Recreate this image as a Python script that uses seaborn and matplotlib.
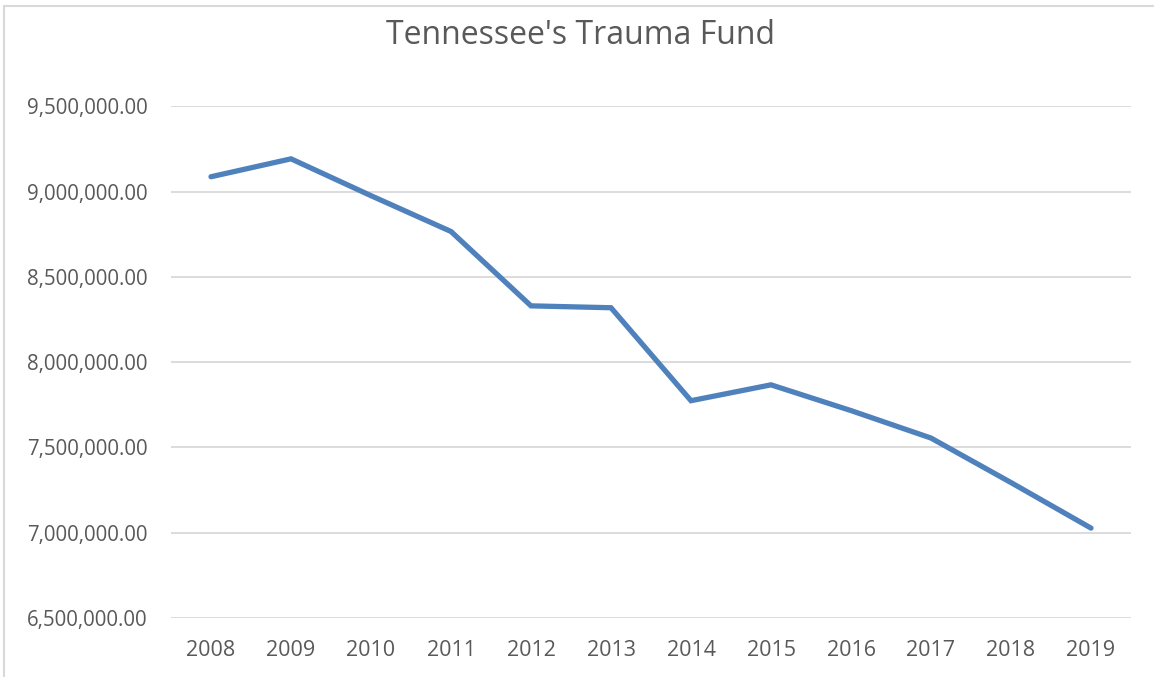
import matplotlib
matplotlib.use("Agg")
import matplotlib.pyplot as plt
import seaborn as sns
import pandas as pd
from matplotlib.ticker import FuncFormatter
from matplotlib.patches import Rectangle

# data
years = ["2008", "2009", "2010", "2011", "2012", "2013",
         "2014", "2015", "2016", "2017", "2018", "2019"]
fund = [9087000, 9192000, 8976000, 8766000, 8330000, 8319000,
        7774000, 7867000, 7716000, 7555000, 7294000, 7027000]
y_ticks = [6500000, 7000000, 7500000, 8000000, 8500000, 9000000, 9500000]

df = pd.DataFrame({"year": years, "fund": fund})

sns.set_style("white")
plt.rcParams['font.family'] = ['Open Sans', 'DejaVu Sans']

text_color = "#595959"
grid_color = "#D9D9D9"

fig = plt.figure(figsize=(11.54, 6.77), dpi=100)
ax = fig.add_axes([171 / 1154, 1 - 618 / 677, 960 / 1154, (618 - 106.3) / 677])

sns.lineplot(data=df, x="year", y="fund", ax=ax, color="#4F81BD",
             linewidth=3.8, sort=False, solid_capstyle="round",
             solid_joinstyle="miter")

ax.set_xlim(-0.5, len(years) - 0.5)
ax.set_ylim(y_ticks[0], y_ticks[-1])
ax.set_yticks(y_ticks)
ax.yaxis.set_major_formatter(FuncFormatter(lambda v, p: f"{v:,.2f}"))
ax.grid(axis="y", color=grid_color, linewidth=1.3)
ax.set_axisbelow(True)
for s in ax.spines.values():
    s.set_visible(False)
ax.tick_params(axis="y", length=0, labelsize=14.8, labelcolor=text_color, pad=17)
ax.tick_params(axis="x", length=0, labelsize=15.5, labelcolor=text_color, pad=16)
ax.set_xlabel("")
ax.set_ylabel("")

fig.text(0.503, 1 - 36 / 677, "Tennessee's Trauma Fund", ha="center",
         va="center", fontsize=23, color=text_color)

# chart area border (only left and top visible in the crop)
fig.add_artist(Rectangle((4 / 1154, -0.1), 1.2, 1 - 6 / 677 + 0.1,
                         transform=fig.transFigure, fill=False,
                         edgecolor=grid_color, linewidth=1.5))

plt.savefig("out.png", dpi=100)
plt.close()
